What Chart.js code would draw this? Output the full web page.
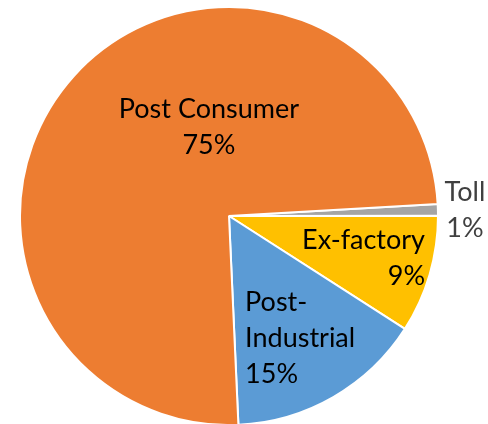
<!DOCTYPE html>
<html>
<head>
<meta charset="utf-8">
<script src="https://cdn.jsdelivr.net/npm/chart.js@4"></script>
<style>
  html, body { margin: 0; padding: 0; background: #fff; }
  #wrap { width: 488px; height: 424px; }
</style>
</head>
<body>
<div id="wrap"><canvas id="pieChart"></canvas></div>
<script>
const categories = ['Toll', 'Ex-factory', 'Post-Industrial', 'Post Consumer'];
const shares = [0.9, 9.1, 15.2, 74.8];
const labelLines = [['Toll'], ['Ex-factory'], ['Post-', 'Industrial'], ['Post Consumer']];

const colors = ['#a5a5a5', '#ffc000', '#5b9bd5', '#ed7d31'];

// label anchors as fractions of the radius from the pie centre
const labelPos = [
  {dx: 1.129, dy: -0.026, align: 'center', color: '#404040'},
  {dx: 0.938, dy: 0.203, align: 'right', color: '#000'},
  {dx: 0.077, dy: 0.584, align: 'left', color: '#000'},
  {dx: -0.096, dy: -0.423, align: 'center', color: '#000'}
];

const sliceLabels = {
  id: 'sliceLabels',
  afterDatasetsDraw(chart) {
    const c = chart.ctx;
    const meta = chart.getDatasetMeta(0);
    const total = shares.reduce((a, b) => a + b, 0);
    c.save();
    c.font = '27px Lato';
    c.textBaseline = 'middle';
    const lh = 36;
    meta.data.forEach((arc, i) => {
      const p = labelPos[i];
      const lines = labelLines[i].concat([Math.round(shares[i] / total * 100) + '%']);
      const cx = arc.x + p.dx * arc.outerRadius;
      const cy = arc.y + p.dy * arc.outerRadius;
      c.fillStyle = p.color;
      c.textAlign = p.align;
      const y0 = cy - (lines.length - 1) * lh / 2;
      lines.forEach((t, k) => c.fillText(t, cx, y0 + k * lh));
    });
    c.restore();
  }
};

new Chart(document.getElementById('pieChart'), {
  type: 'pie',
  data: {
    labels: categories,
    datasets: [{
      data: shares,
      backgroundColor: colors,
      borderColor: '#fff',
      borderWidth: 2
    }]
  },
  options: {
    responsive: true,
    maintainAspectRatio: false,
    animation: false,
    rotation: 86.7,
    radius: 209,
    layout: { padding: { left: 0, right: 30, top: 12, bottom: 4 } },
    plugins: {
      legend: { display: false },
      tooltip: { enabled: false }
    }
  },
  plugins: [sliceLabels]
});
</script>
</body>
</html>
